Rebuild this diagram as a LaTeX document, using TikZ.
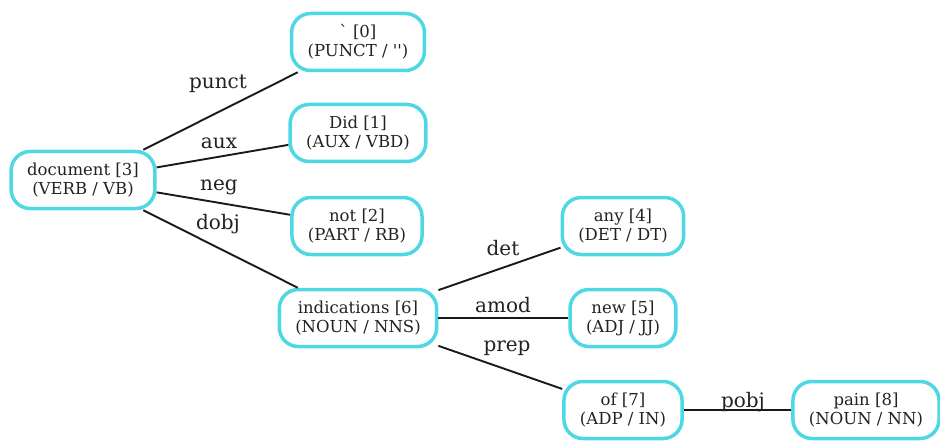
\documentclass[tikz,border=0pt]{standalone}
\usepackage{fontspec}
\setmainfont{DejaVu Serif}[Ligatures=TeXOff]
\usepackage{xcolor}
\usetikzlibrary{positioning}
\definecolor{TokTurq}{HTML}{4ED8E4}
\definecolor{EdgeGray}{HTML}{1A1A1A}
\definecolor{TextGray}{HTML}{222222}

\begin{document}
\begin{tikzpicture}[x=1pt,y=-1pt,
  tok/.style={draw=TokTurq,line width=3.5pt,rounded corners=19pt,align=center,
    minimum height=57pt,inner xsep=16pt,text=TextGray,
    font=\fontsize{16.5}{19}\selectfont},
  rel/.style={font=\fontsize{20}{21}\selectfont,inner sep=1pt,text=TextGray},
  dep/.style={draw=EdgeGray,line width=1.9pt}]
  \useasboundingbox (0,0) rectangle (940,441);
  % tokens
  \node[tok] (doc3) at (83,180) {document [3]\\(VERB / VB)};
  \node[tok] (tok0) at (358,42) {` [0]\\(PUNCT / '')};
  \node[tok] (did1) at (358,133) {Did [1]\\(AUX / VBD)};
  \node[tok] (not2) at (357,226) {not [2]\\(PART / RB)};
  \node[tok] (ind6) at (358,318) {indications [6]\\(NOUN / NNS)};
  \node[tok] (any4) at (623,226) {any [4]\\(DET / DT)};
  \node[tok] (new5) at (623,318) {new [5]\\(ADJ / JJ)};
  \node[tok] (of7) at (623,410) {of [7]\\(ADP / IN)};
  \node[tok] (pain8) at (866,410) {pain [8]\\(NOUN / NN)};
  % arcs
  \draw[dep] (doc3)--(tok0); \draw[dep] (doc3)--(did1);
  \draw[dep] (doc3)--(not2); \draw[dep] (doc3)--(ind6);
  \draw[dep] (ind6)--(any4); \draw[dep] (ind6)--(new5);
  \draw[dep] (ind6)--(of7); \draw[dep] (of7)--(pain8);
  % arc labels
  \node[rel] (lpunct) at (218,84) {punct};
  \node[rel] (laux) at (219,143) {aux};
  \node[rel] (lneg) at (219,187) {neg};
  \node[rel] (ldobj) at (218,224) {dobj};
  \node[rel] (ldet) at (503,248) {det};
  \node[rel] (lamod) at (503,305) {amod};
  \node[rel] (lprep) at (507,348) {prep};
  \node[rel] (lpobj) at (743,402) {pobj};
\end{tikzpicture}
\end{document}
